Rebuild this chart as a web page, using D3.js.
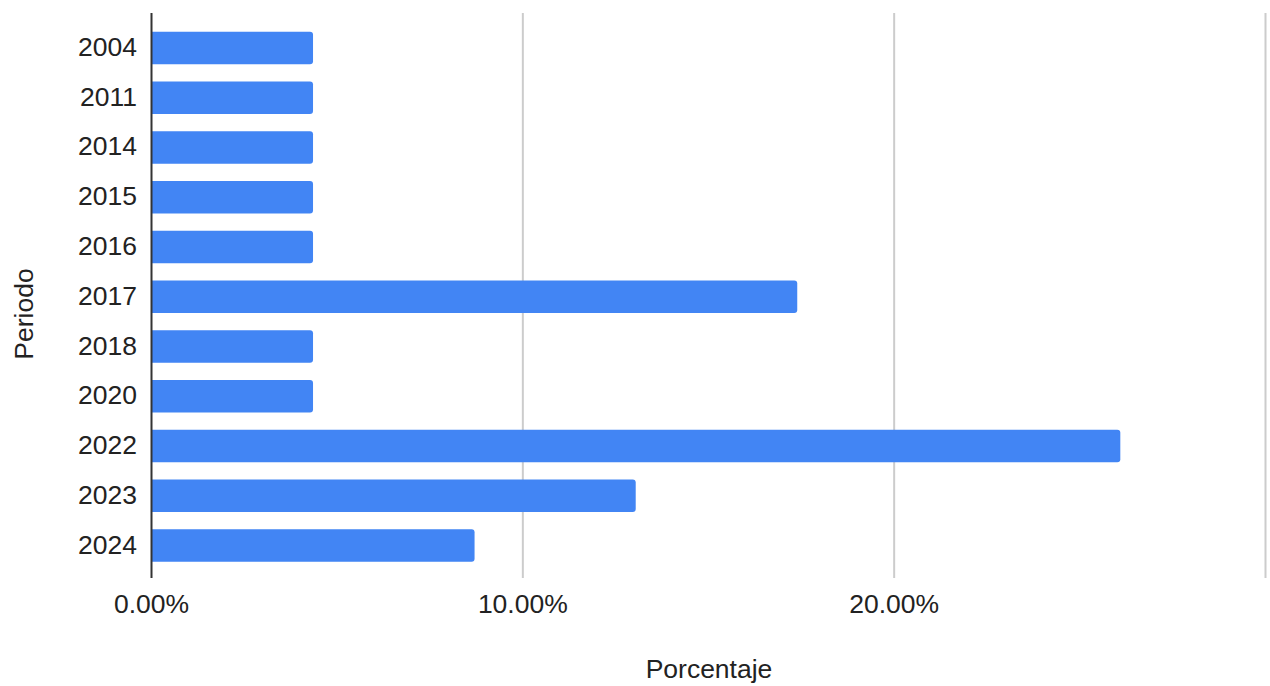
<!DOCTYPE html>
<html>
<head>
<meta charset="utf-8">
<script src="https://cdn.jsdelivr.net/npm/d3@7"></script>
<style>
  html, body { margin: 0; padding: 0; background: #fff; }
  svg { display: block; font-family: Arial, "Liberation Sans", sans-serif; }
</style>
</head>
<body>
<svg id="chart" width="1270" height="686"></svg>
<script>
// Share of records per period (percent)
const periods = ["2004", "2011", "2014", "2015", "2016", "2017", "2018", "2020", "2022", "2023", "2024"];
const shares = [4.35, 4.35, 4.35, 4.35, 4.35, 17.39, 4.35, 4.35, 26.09, 13.04, 8.70];
const xTicks = [0, 10, 20, 30];
const xTickLabels = ["0.00%", "10.00%", "20.00%", ""];

const svg = d3.select("#chart");
const plot = { left: 151.5, right: 1265.5, top: 13, bottom: 578 };
const fontSize = 26.5;

const x = d3.scaleLinear().domain([0, 30]).range([plot.left, plot.right]);
const y = d3.scaleBand()
  .domain(periods)
  .range([23.1, 570.4])
  .paddingInner(0.345)
  .paddingOuter(0.1725);

// vertical gridlines
svg.append("g")
  .selectAll("line")
  .data(xTicks.slice(1))
  .join("line")
  .attr("x1", d => x(d)).attr("x2", d => x(d))
  .attr("y1", plot.top).attr("y2", plot.bottom)
  .attr("stroke", "#cccccc").attr("stroke-width", 2);

// bars with rounded right end
const r = 3;
const data = periods.map((p, i) => ({ p, v: shares[i] }));
svg.append("g")
  .selectAll("path")
  .data(data)
  .join("path")
  .attr("fill", "#4285f4")
  .attr("d", d => {
    const x0 = x(0), x1 = x(d.v), y0 = y(d.p), h = y.bandwidth();
    return `M${x0},${y0}H${x1 - r}Q${x1},${y0} ${x1},${y0 + r}V${y0 + h - r}Q${x1},${y0 + h} ${x1 - r},${y0 + h}H${x0}Z`;
  });

// baseline axis
svg.append("line")
  .attr("x1", x(0)).attr("x2", x(0))
  .attr("y1", plot.top).attr("y2", plot.bottom)
  .attr("stroke", "#333333").attr("stroke-width", 2);

// category labels
svg.append("g")
  .selectAll("text")
  .data(periods)
  .join("text")
  .attr("x", 137)
  .attr("y", d => y(d) + y.bandwidth() / 2 + 8)
  .attr("text-anchor", "end")
  .attr("font-size", fontSize)
  .attr("fill", "#222222")
  .text(d => d);

// x tick labels
svg.append("g")
  .selectAll("text")
  .data(xTicks)
  .join("text")
  .attr("x", d => x(d))
  .attr("y", 613)
  .attr("text-anchor", "middle")
  .attr("font-size", fontSize)
  .attr("fill", "#222222")
  .text((d, i) => xTickLabels[i]);

// axis titles
svg.append("text")
  .attr("x", 709).attr("y", 678)
  .attr("text-anchor", "middle")
  .attr("font-size", fontSize)
  .attr("fill", "#222222")
  .text("Porcentaje");

svg.append("text")
  .attr("transform", "translate(33,314) rotate(-90)")
  .attr("text-anchor", "middle")
  .attr("font-size", fontSize)
  .attr("fill", "#222222")
  .text("Periodo");
</script>
</body>
</html>
